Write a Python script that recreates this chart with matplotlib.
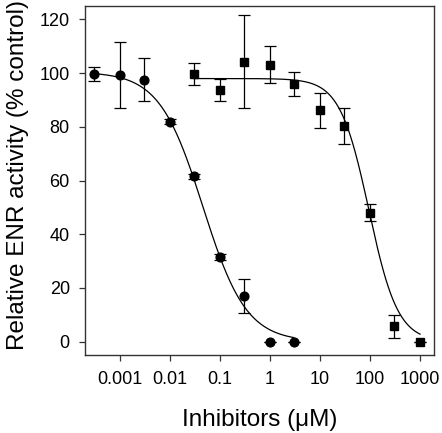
import numpy as np
import matplotlib
matplotlib.use("Agg")
import matplotlib.pyplot as plt

plt.rcParams['font.family'] = ['Liberation Sans', 'DejaVu Sans']

# circles
conc_a = [0.0003, 0.001, 0.003, 0.01, 0.03, 0.1, 0.3, 1, 3]
act_a = [99.7, 99.3, 97.6, 81.9, 61.6, 31.5, 17.1, 0, 0]
err_a = [2.5, 12.3, 8.1, 1, 1, 1, 6.3, 0, 0]

# squares
conc_b = [0.03, 0.1, 0.3, 1, 3, 10, 30, 100, 300, 1000]
act_b = [99.7, 93.7, 104.3, 103.2, 96.0, 86.2, 80.2, 48.1, 5.7, 0]
err_b = [4.0, 4.2, 17.3, 7.0, 4.6, 6.6, 6.7, 3.3, 4.2, 0]

# fitted curves: top, bottom, IC50, hill slope
fit_a = [100.5, 0.0, 0.0457, 1.0]
fit_b = [98.0, 0.0, 95.0, 1.5]


def hill(x, p):
    top, bottom, ic50, h = p
    return bottom + (top - bottom) / (1 + (x / ic50) ** h)


fig = plt.figure(figsize=(4.42, 4.33), dpi=100)
ax = fig.add_axes([0.192, 0.180, 0.790, 0.806])

xa = np.logspace(np.log10(conc_a[0]), np.log10(conc_a[-1]), 300)
xb = np.logspace(np.log10(conc_b[0]), np.log10(conc_b[-1]), 300)
ax.plot(xa, hill(xa, fit_a), color='black', lw=0.9)
ax.plot(xb, hill(xb, fit_b), color='black', lw=0.9)

ax.errorbar(conc_a, act_a, yerr=err_a, fmt='o', color='black', ms=6.3,
            capsize=4, elinewidth=0.9, capthick=0.9)
ax.errorbar(conc_b, act_b, yerr=err_b, fmt='s', color='black', ms=5.8,
            capsize=4, elinewidth=0.9, capthick=0.9)

ax.set_xscale('log')
ax.set_xlim(10 ** -3.7, 10 ** 3.28)
ax.set_ylim(-5, 125)
ax.set_xticks([0.001, 0.01, 0.1, 1, 10, 100, 1000])
ax.set_xticklabels(['0.001', '0.01', '0.1', '1', '10', '100', '1000'])
ax.minorticks_off()
ax.set_yticks(range(0, 121, 20))
ax.tick_params(direction='out', length=4.3, width=0.9, labelsize=13, color='#333333')
ax.tick_params(axis='x', pad=7.5)
ax.tick_params(axis='y', pad=6.5)
for s in ax.spines.values():
    s.set_linewidth(1.0)
    s.set_color('#333333')

ax.set_xlabel('Inhibitors (\u03bcM)', fontsize=17.5, labelpad=14.5)
ax.set_ylabel('Relative ENR activity (% control)', fontsize=17.5)
ax.yaxis.set_label_coords(-0.16, 0.516)

fig.savefig('out.png', dpi=100)
